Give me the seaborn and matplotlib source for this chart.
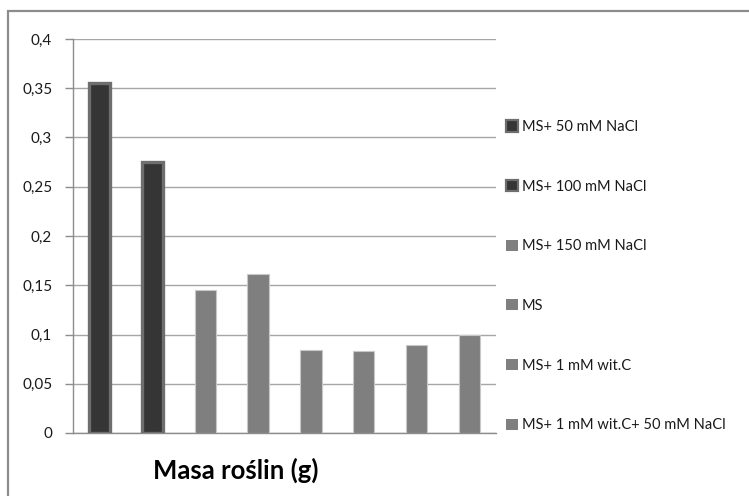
import matplotlib
matplotlib.use("Agg")
import matplotlib.pyplot as plt
from matplotlib.patches import Patch, Rectangle
from matplotlib.ticker import FuncFormatter, MultipleLocator
import pandas as pd
import seaborn as sns

# Plant mass per treatment (g)
treatments = [
    "MS+ 50 mM NaCl",
    "MS+ 100 mM NaCl",
    "MS+ 150 mM NaCl",
    "MS",
    "MS+ 1 mM wit.C",
    "MS+ 1 mM wit.C+ 50 mM NaCl",
    "MS+ 1 mM wit.C+ 100 mM NaCl",
    "MS+ 1 mM wit.C+ 150 mM NaCl",
]
mass = [0.355, 0.275, 0.145, 0.161, 0.084, 0.083, 0.089, 0.099]
legend_count = 6

fill_colors = ["#353535", "#353535", "#7f7f7f", "#7f7f7f",
               "#7f7f7f", "#7f7f7f", "#7f7f7f", "#7f7f7f"]
edge_colors = ["#6e6e6e", "#6e6e6e", "#c8c8c8", "#c8c8c8",
               "#c8c8c8", "#c8c8c8", "#c8c8c8", "#c8c8c8"]
edge_widths = [2.4, 2.4, 0.8, 0.8, 0.8, 0.8, 0.8, 0.8]

df = pd.DataFrame({"treatment": treatments, "mass": mass})

sns.set_theme(style="white")
plt.rcParams["font.family"] = ["Lato", "DejaVu Sans"]

W, H = 749, 496
fig = plt.figure(figsize=(W / 100, H / 100), dpi=100)
fig.patch.set_facecolor("white")

# outer chart frame (top and left edges visible)
fig.add_artist(Rectangle((8 / W, -0.1), 1.2, (H - 11) / H + 0.1,
                         transform=fig.transFigure, fill=False,
                         edgecolor="#8c8c8c", linewidth=1.6))

ax = fig.add_axes([73 / W, (H - 433) / H, (496 - 73) / W, (433 - 39) / H])
sns.barplot(data=df, x="treatment", y="mass", hue="treatment",
            palette=dict(zip(treatments, fill_colors)), width=0.4,
            legend=False, ax=ax)

for bar, ec, lw in zip(ax.patches, edge_colors, edge_widths):
    bar.set_edgecolor(ec)
    bar.set_linewidth(lw)
    bar.set_zorder(3)

ax.set_ylim(0, 0.4)
ax.set_xlim(-0.5, len(treatments) - 0.5)
ax.yaxis.set_major_locator(MultipleLocator(0.05))
ax.yaxis.set_major_formatter(
    FuncFormatter(lambda v, _: "0" if abs(v) < 1e-9 else f"{v:.2f}".rstrip("0").replace(".", ",")))
ax.grid(axis="y", color="#a6a6a6", linewidth=1.0, zorder=0)
ax.set_axisbelow(True)

for side in ["top", "right"]:
    ax.spines[side].set_visible(False)
for side in ["left", "bottom"]:
    ax.spines[side].set_color("#8c8c8c")
    ax.spines[side].set_linewidth(1.0)

ax.set_xticks([])
ax.set_xlabel("")
ax.set_ylabel("")
ax.tick_params(axis="y", direction="out", length=6, width=1.0, color="#8c8c8c",
               labelsize=11, labelcolor="#1a1a1a", pad=9, left=True)

handles = [Patch(facecolor=fill_colors[i], edgecolor=edge_colors[i],
                 linewidth=1.6 if i < 2 else 0.0, label=treatments[i])
           for i in range(legend_count)]
fig.legend(handles=handles, loc="upper left",
           bbox_to_anchor=(506 / W, (H - 120) / H),
           frameon=False, fontsize=10.5, labelspacing=3.13,
           handlelength=0.8, handleheight=0.8, handletextpad=0.3,
           borderaxespad=0, borderpad=0)
for t in fig.legends[0].get_texts():
    t.set_color("#1a1a1a")

fig.text(236 / W, (H - 470) / H, "Masa roślin (g)", ha="center", va="center",
         fontsize=18.5, fontweight="bold", color="#000000")

fig.savefig("out.png", dpi=100)
